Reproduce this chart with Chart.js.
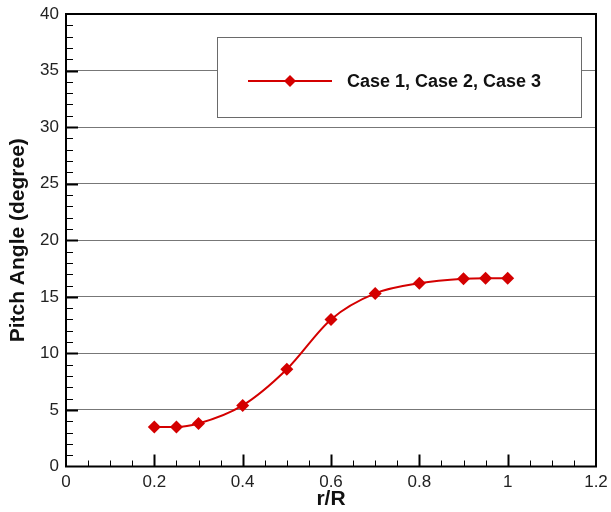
<!DOCTYPE html>
<html>
<head>
<meta charset="utf-8">
<script src="https://cdn.jsdelivr.net/npm/chart.js@4/dist/chart.umd.min.js"></script>
<style>
  html, body { margin: 0; padding: 0; background: #fff; }
  #wrap { width: 611px; height: 512px; }
</style>
</head>
<body>
<div id="wrap"><canvas id="c" width="611" height="512"></canvas></div>
<script>
// Radial stations r/R and the blade pitch angle at each (degrees)
const radius = [0.2, 0.25, 0.3, 0.4, 0.5, 0.6, 0.7, 0.8, 0.9, 0.95, 1.0];
const pitchAngle = [3.5, 3.5, 3.8, 5.4, 8.6, 13.0, 15.3, 16.2, 16.6, 16.65, 16.65];
const seriesName = 'Case 1, Case 2, Case 3';
const xLabel = 'r/R';
const yLabel = 'Pitch Angle (degree)';

const RED = '#d40000';
const FONT = '"Liberation Sans", Arial, sans-serif';

// Inward-pointing major/minor ticks plus the plot frame
const frameTicks = {
  id: 'frameTicks',
  afterDatasetsDraw(chart) {
    const { ctx, chartArea: a, scales: { x, y } } = chart;
    ctx.save();
    ctx.strokeStyle = '#000';
    // x axis ticks (minor every 0.05, major every 0.2)
    for (let i = 1; i < 24; i++) {
      const v = i * 0.05;
      const px = Math.round(x.getPixelForValue(v)) + 0.5;
      const major = i % 4 === 0;
      ctx.lineWidth = major ? 2 : 1;
      ctx.beginPath();
      ctx.moveTo(px, a.bottom);
      ctx.lineTo(px, a.bottom - (major ? 12 : 6));
      ctx.stroke();
    }
    // y axis ticks (minor every 1, major every 5)
    for (let i = 1; i < 40; i++) {
      const py = Math.round(y.getPixelForValue(i)) + 0.5;
      const major = i % 5 === 0;
      ctx.lineWidth = major ? 2 : 1;
      ctx.beginPath();
      ctx.moveTo(a.left, py);
      ctx.lineTo(a.left + (major ? 12 : 7), py);
      ctx.stroke();
    }
    ctx.lineWidth = 2;
    ctx.strokeRect(a.left, a.top, a.right - a.left, a.bottom - a.top);
    ctx.restore();
  }
};

// Boxed legend placed inside the plot
const boxedLegend = {
  id: 'boxedLegend',
  beforeDatasetsDraw(chart) {
    const { ctx } = chart;
    ctx.save();
    ctx.fillStyle = '#fff';
    ctx.fillRect(217, 37, 364, 80);
    ctx.strokeStyle = '#6a6a6a';
    ctx.lineWidth = 1;
    ctx.strokeRect(217.5, 37.5, 364, 80);
    ctx.restore();
  },
  afterDatasetsDraw(chart) {
    const { ctx } = chart;
    ctx.save();
    ctx.strokeStyle = RED;
    ctx.lineWidth = 2;
    ctx.beginPath();
    ctx.moveTo(248, 81);
    ctx.lineTo(332, 81);
    ctx.stroke();
    ctx.fillStyle = RED;
    ctx.beginPath();
    ctx.moveTo(290, 75);
    ctx.lineTo(296, 81);
    ctx.lineTo(290, 87);
    ctx.lineTo(284, 81);
    ctx.closePath();
    ctx.fill();
    ctx.fillStyle = '#111';
    ctx.font = 'bold 18px ' + FONT;
    ctx.textBaseline = 'middle';
    ctx.fillText(seriesName, 347, 82);
    ctx.restore();
  }
};

new Chart(document.getElementById('c'), {
  type: 'line',
  data: {
    datasets: [{
      label: seriesName,
      data: radius.map((r, i) => ({ x: r, y: pitchAngle[i] })),
      borderColor: RED,
      backgroundColor: RED,
      borderWidth: 2,
      pointStyle: 'rectRot',
      pointRadius: 6.5,
      pointBorderWidth: 0,
      cubicInterpolationMode: 'monotone'
    }]
  },
  options: {
    responsive: false,
    animation: false,
    layout: { padding: { top: 14, right: 15, left: 0, bottom: 0 } },
    plugins: { legend: { display: false }, tooltip: { enabled: false } },
    scales: {
      x: {
        type: 'linear',
        min: 0, max: 1.2,
        afterFit(s) { s.height = 45.5; s.paddingLeft = 0; s.paddingRight = 0; },
        grid: { display: false, drawTicks: false },
        border: { display: false },
        ticks: {
          stepSize: 0.2,
          padding: 6,
          color: '#222',
          font: { family: FONT, size: 17 },
          callback: v => String(Math.round(v * 10) / 10)
        },
        title: {
          display: true, text: xLabel, color: '#111', padding: 0,
          font: { family: FONT, size: 21, weight: 'bold' }
        }
      },
      y: {
        min: 0, max: 40,
        afterFit(s) { s.width = 66; s.paddingTop = 0; s.paddingBottom = 0; },
        grid: { color: '#777', lineWidth: 1, drawTicks: false },
        border: { display: false },
        ticks: {
          stepSize: 5,
          padding: 7,
          color: '#222',
          font: { family: FONT, size: 17 }
        },
        title: {
          display: true, text: yLabel, color: '#111', padding: { top: 6, bottom: 0 },
          font: { family: FONT, size: 21, weight: 'bold' }
        }
      }
    }
  },
  plugins: [boxedLegend, frameTicks]
});
</script>
</body>
</html>
